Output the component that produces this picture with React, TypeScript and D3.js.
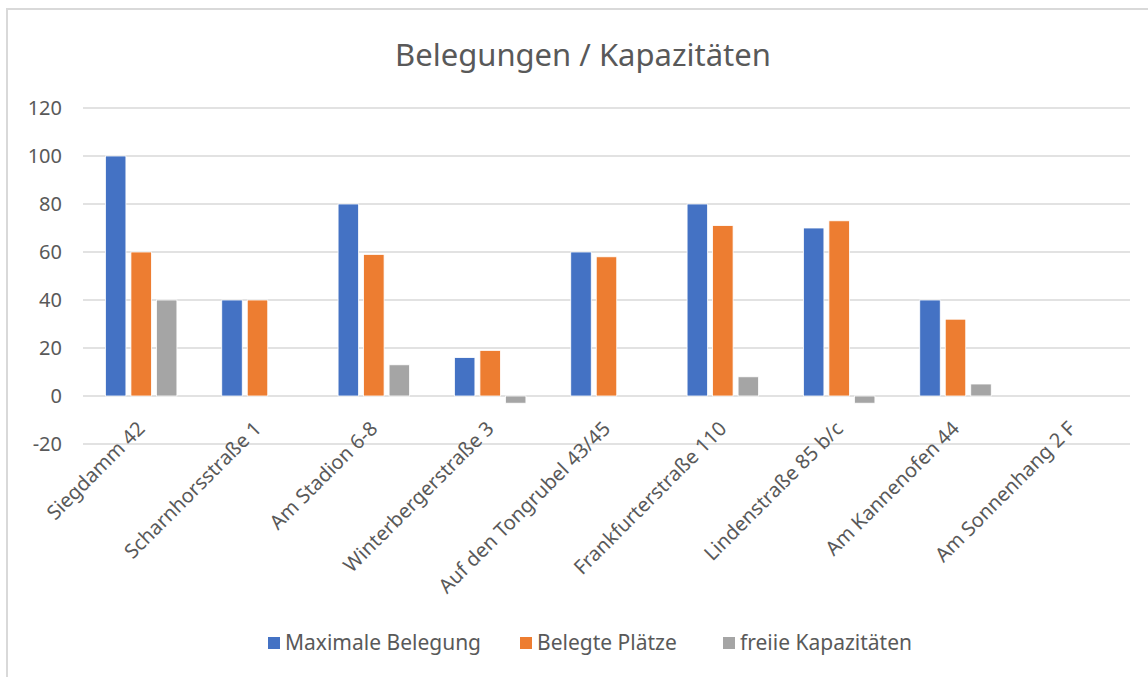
import React from "react";
import * as d3 from "d3";

const categories = [
  "Siegdamm 42",
  "Scharnhorsstraße 1",
  "Am Stadion 6-8",
  "Winterbergerstraße 3",
  "Auf den Tongrubel 43/45",
  "Frankfurterstraße 110",
  "Lindenstraße 85 b/c",
  "Am Kannenofen 44",
  "Am Sonnenhang 2 F",
];
const seriesNames = ["Maximale Belegung", "Belegte Plätze", "freiie Kapazitäten"];
const maxBelegung = [100, 40, 80, 16, 60, 80, 70, 40, 0];
const belegtePlaetze = [60, 40, 59, 19, 58, 71, 73, 32, 0];
const freieKapazitaeten = [40, 0, 13, -3, 0, 8, -3, 5, 0];
const seriesValues = [maxBelegung, belegtePlaetze, freieKapazitaeten];
const seriesColors = ["#4472C4", "#ED7D31", "#A5A5A5"];
const yTicks = [-20, 0, 20, 40, 60, 80, 100, 120];

const W = 1148;
const H = 677;
const FONT = "'Noto Sans', 'Open Sans', sans-serif";
const TEXT = "#595959";

export default function App() {
  const x0 = d3.scaleBand<string>().domain(categories).range([83, 1130]).paddingInner(0).paddingOuter(0);
  const x1 = d3.scaleBand<string>().domain(seriesNames).range([-38.25, 38.25]);
  const y = d3.scaleLinear().domain([-20, 120]).range([444, 108]);
  const barW = x1.bandwidth() - 5;

  const legendX = [268, 520, 723];

  return (
    <svg
      width={W}
      height={H}
      style={{ position: "absolute", left: 0, top: 0, background: "#fff" }}
      fontFamily={FONT}
    >
      <rect x={0} y={0} width={W} height={H} fill="#fff" />
      {/* outer border (top & left visible) */}
      <line x1={6} y1={9} x2={W} y2={9} stroke="#d9d9d9" strokeWidth={2} />
      <line x1={7} y1={9} x2={7} y2={H} stroke="#d9d9d9" strokeWidth={2} />

      <text x={583} y={66} textAnchor="middle" fontSize={31} fill={TEXT}>
        Belegungen / Kapazitäten
      </text>

      {/* gridlines and y ticks */}
      {yTicks.map((t) => (
        <g key={t}>
          <line x1={83} x2={1130} y1={y(t)} y2={y(t)} stroke="#d9d9d9" strokeWidth={1.5} />
          <text x={62} y={y(t)} dy="0.35em" textAnchor="end" fontSize={20} fill={TEXT}>
            {t}
          </text>
        </g>
      ))}

      {/* bars */}
      {categories.map((c, i) => {
        const cx = (x0(c) as number) + x0.bandwidth() / 2;
        return (
          <g key={c}>
            {seriesNames.map((s, k) => {
              const v = seriesValues[k][i];
              if (v === 0) return null;
              const y0 = y(0);
              const yv = y(v);
              return (
                <rect
                  key={s}
                  x={cx + (x1(s) as number) + 2.5}
                  y={Math.min(y0, yv)}
                  width={barW}
                  height={Math.abs(yv - y0)}
                  fill={seriesColors[k]}
                  stroke="#fff"
                  strokeWidth={0.8}
                />
              );
            })}
          </g>
        );
      })}

      {/* x labels */}
      {categories.map((c) => {
        const cx = (x0(c) as number) + x0.bandwidth() / 2;
        return (
          <text
            key={c}
            transform={`translate(${cx + 5},${430}) rotate(-45)`}
            textAnchor="end"
            fontSize={20}
            fill={TEXT}
          >
            {c}
          </text>
        );
      })}

      {/* legend */}
      {seriesNames.map((s, k) => (
        <g key={s} transform={`translate(${legendX[k]},643)`}>
          <rect x={0} y={-6} width={12} height={12} fill={seriesColors[k]} />
          <text x={17} y={0} dy="0.35em" fontSize={21} fill={TEXT}>
            {s}
          </text>
        </g>
      ))}
    </svg>
  );
}
